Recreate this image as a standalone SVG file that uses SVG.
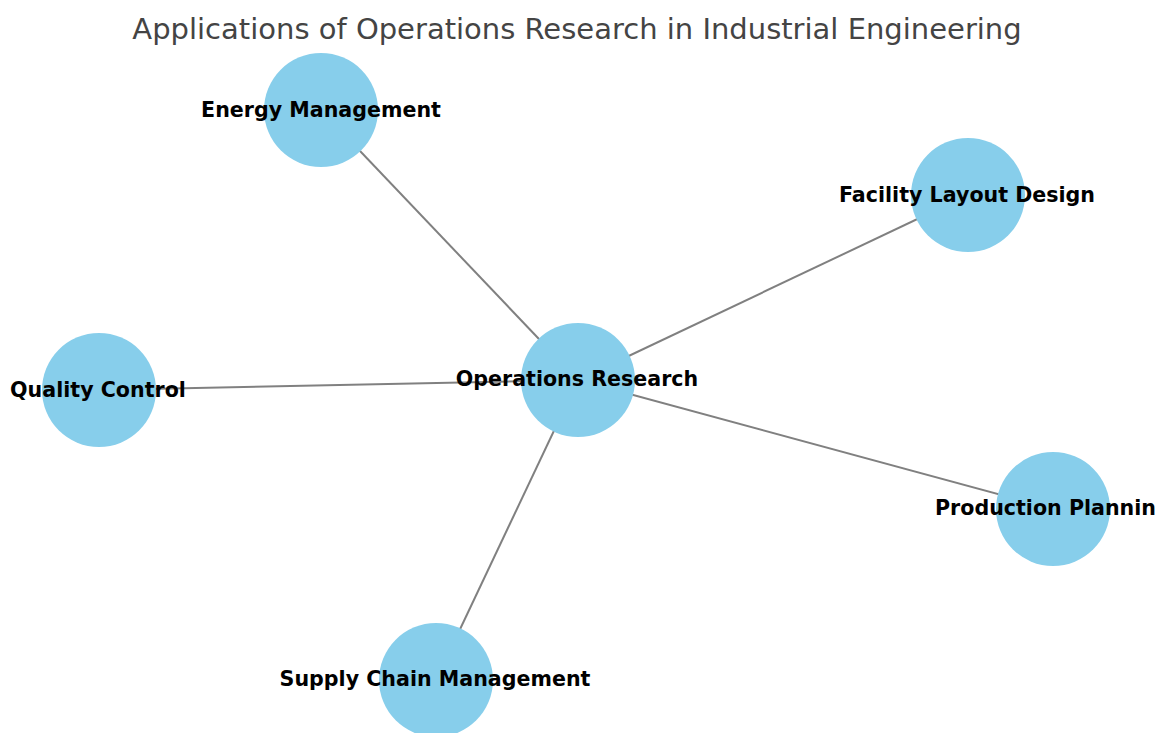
<svg xmlns="http://www.w3.org/2000/svg" width="1161" height="733" viewBox="0 0 1161 733">
  <style>
    .title { font-family: "DejaVu Sans", "Liberation Sans", sans-serif; font-size: 29px; fill: #444444; text-anchor: middle; }
    .node circle { fill: #87CEEB; }
    .node text { font-family: "DejaVu Sans", "Liberation Sans", sans-serif; font-weight: bold; font-size: 20.6px; fill: #000000; text-anchor: middle; }
    .edges line { stroke: #808080; stroke-width: 2; }
  </style>
  <rect x="0" y="0" width="1161" height="733" fill="#ffffff"/>
  <text class="title" x="577" y="39">Applications of Operations Research in Industrial Engineering</text>

  <!-- connectors: hub to each application -->
  <g id="edges" class="edges">
    <line x1="578" y1="380" x2="321" y2="110"/>
    <line x1="578" y1="380" x2="968" y2="195"/>
    <line x1="578" y1="380" x2="99" y2="390"/>
    <line x1="578" y1="380" x2="1053" y2="509"/>
    <line x1="578" y1="380" x2="436" y2="680"/>
  </g>

  <g id="node-energy" class="node">
    <circle cx="321" cy="110" r="57"/>
    <text x="321" y="117">Energy Management</text>
  </g>
  <g id="node-facility" class="node">
    <circle cx="968" cy="195" r="57"/>
    <text x="967" y="202">Facility Layout Design</text>
  </g>
  <g id="node-quality" class="node">
    <circle cx="99" cy="390" r="57"/>
    <text x="98" y="397">Quality Control</text>
  </g>
  <g id="node-operations" class="node">
    <circle cx="578" cy="380" r="57"/>
    <text x="577" y="386">Operations Research</text>
  </g>
  <g id="node-production" class="node">
    <circle cx="1053" cy="509" r="57"/>
    <text x="935" y="515" style="text-anchor: start">Production Plannin</text>
  </g>
  <g id="node-supply" class="node">
    <circle cx="436" cy="680" r="57"/>
    <text x="435" y="686">Supply Chain Management</text>
  </g>
</svg>
